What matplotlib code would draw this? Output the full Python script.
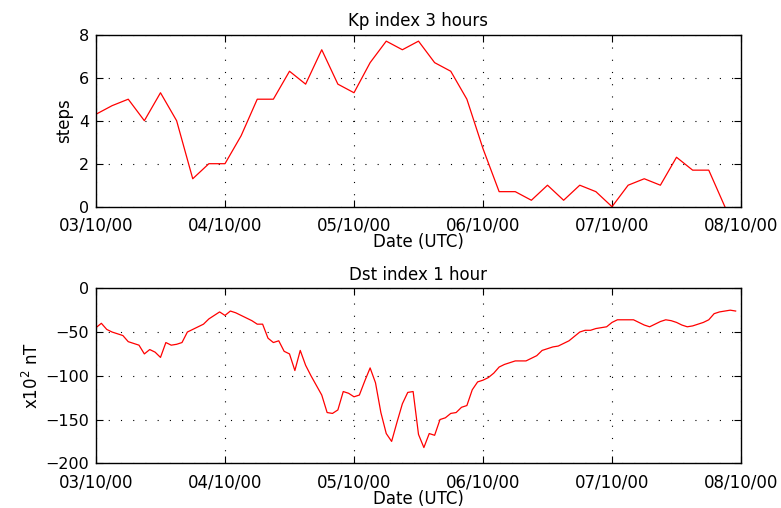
import datetime as dt
import matplotlib
matplotlib.use('Agg')
import matplotlib.pyplot as plt
import matplotlib.dates as mdates

# Kp index, 3-hourly, from 03/10/2000 00:00
kp = [4.3, 4.7, 5.0, 4.0, 5.3, 4.0, 1.3, 2.0,
      2.0, 3.3, 5.0, 5.0, 6.3, 5.7, 7.3, 5.7,
      5.3, 6.7, 7.7, 7.3, 7.7, 6.7, 6.3, 5.0,
      2.7, 0.7, 0.7, 0.3, 1.0, 0.3, 1.0, 0.7,
      0.0, 1.0, 1.3, 1.0, 2.3, 1.7, 1.7, 0.0]

# Dst index, hourly, from 03/10/2000 00:00
dst = [-45, -40, -47, -50, -52, -54, -61, -63, -65, -75, -70, -73,
       -79, -62, -65, -64, -62, -50, -47, -44, -41, -35, -31, -27,
       -31, -26, -28, -31, -34, -37, -41, -41, -57, -62, -60, -72,
       -75, -94, -71, -88, -100, -111, -122, -142, -143, -139, -118, -120,
       -124, -122, -106, -91, -108, -142, -166, -175, -153, -132, -119, -118,
       -167, -182, -166, -168, -150, -148, -143, -142, -136, -134, -116, -107,
       -105, -102, -97, -90, -87, -85, -83, -83, -83, -80, -77, -71,
       -69, -67, -66, -63, -60, -55, -50, -48, -48, -46, -45, -44,
       -39, -36, -36, -36, -36, -39, -42, -44, -41, -38, -36, -37,
       -39, -42, -44, -43, -41, -39, -36, -29, -27, -26, -25, -26]

day_ticks = ['03/10/00', '04/10/00', '05/10/00', '06/10/00', '07/10/00', '08/10/00']

start = dt.datetime(2000, 10, 3)
t_kp = [start + dt.timedelta(hours=3 * i) for i in range(len(kp))]
t_dst = [start + dt.timedelta(hours=i) for i in range(len(dst))]
t_ticks = [dt.datetime.strptime(s, '%d/%m/%y') for s in day_ticks]


def style(ax):
    ax.set_xlim(t_ticks[0], t_ticks[-1])
    ax.set_xticks(t_ticks)
    ax.set_xticklabels(day_ticks)
    ax.tick_params(direction='in', top=True, right=True, length=5,
                   width=0.8, labelsize=12)
    ax.tick_params(axis='x', pad=7)
    ax.tick_params(axis='y', pad=5, labelsize=11.5)
    ax.grid(True, color='black', linestyle=(0, (1, 10)), linewidth=0.8)
    for s in ax.spines.values():
        s.set_linewidth(1.0)
    ax.set_xlabel('Date (UTC)', fontsize=12, labelpad=-1)


def main():
    fig = plt.figure(figsize=(7.81, 5.08), dpi=100)

    ax1 = fig.add_axes([0.1229, 0.5931, 0.8259, 0.3386])
    ax1.plot(t_kp, kp, color='red', linewidth=0.9)
    style(ax1)
    ax1.set_ylim(0, 8)
    ax1.set_yticks([0, 2, 4, 6, 8])
    ax1.set_ylabel('steps', fontsize=12, labelpad=4)
    ax1.set_title('Kp index 3 hours', fontsize=12, pad=6)

    ax2 = fig.add_axes([0.1229, 0.0880, 0.8259, 0.3445])
    ax2.plot(t_dst, dst, color='red', linewidth=0.9)
    style(ax2)
    ax2.set_ylim(-200, 0)
    ax2.set_yticks([-200, -150, -100, -50, 0])
    ax2.set_ylabel('x10$^2$ nT', fontsize=12, labelpad=2)
    ax2.set_title('Dst index 1 hour', fontsize=12, pad=6)

    fig.savefig('out.png', dpi=100)


if __name__ == '__main__':
    main()
